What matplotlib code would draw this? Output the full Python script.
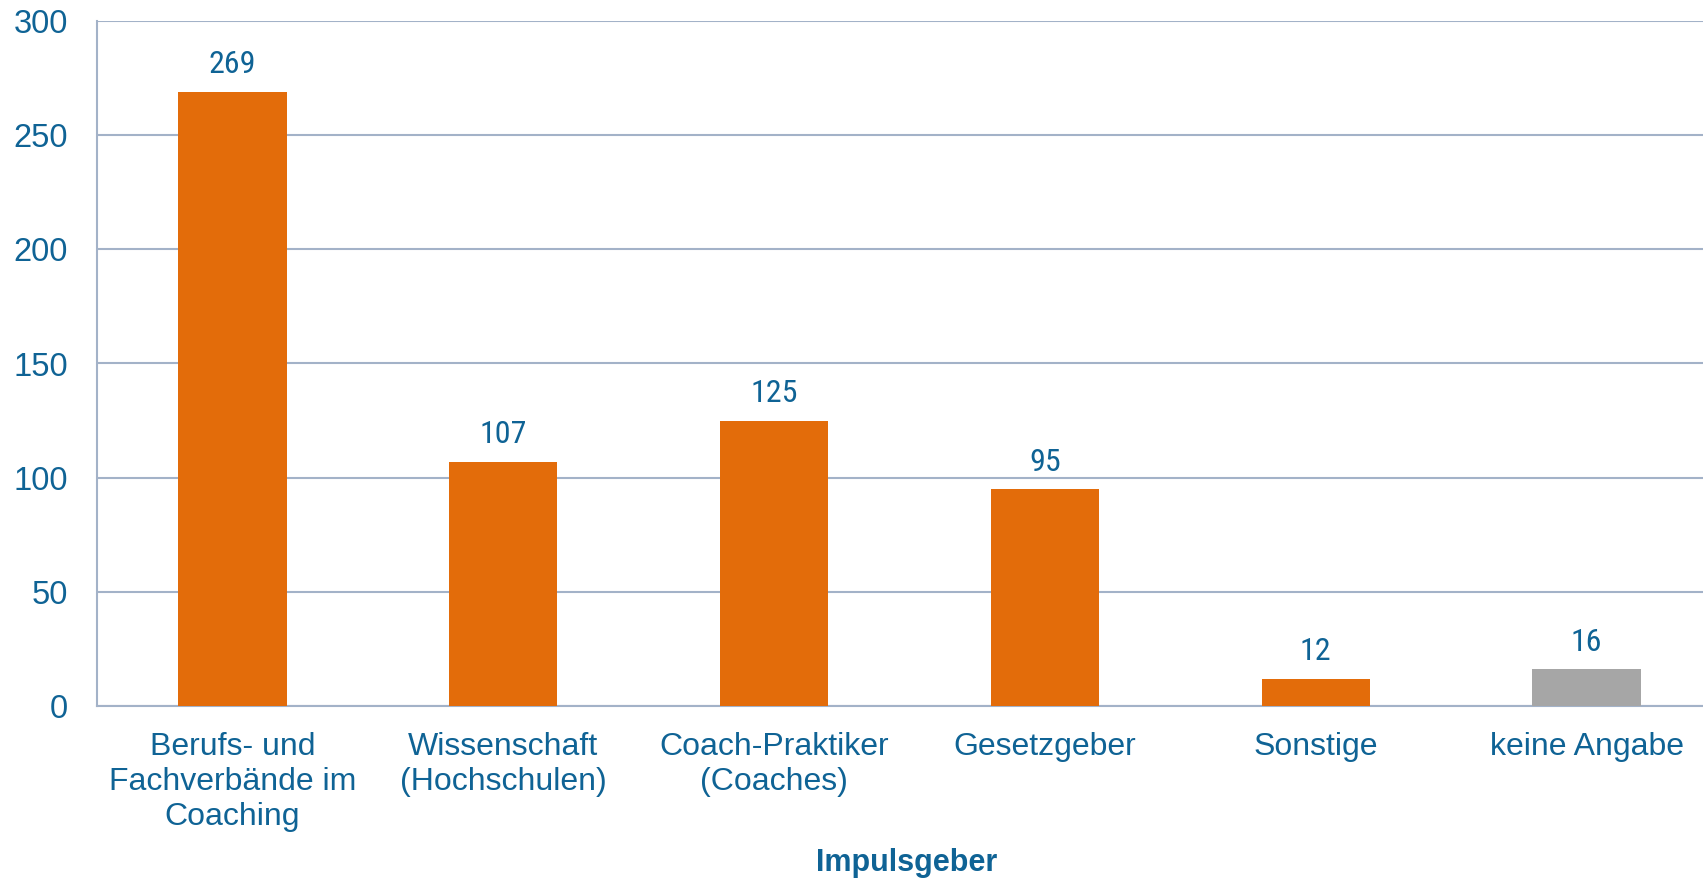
import matplotlib
matplotlib.use("Agg")
import matplotlib.pyplot as plt
from matplotlib import font_manager

categories = ["Berufs- und\nFachverbände im\nCoaching", "Wissenschaft\n(Hochschulen)",
              "Coach-Praktiker\n(Coaches)", "Gesetzgeber", "Sonstige", "keine Angabe"]
values = [269, 107, 125, 95, 12, 16]
bar_colors = ["#E36C0A", "#E36C0A", "#E36C0A", "#E36C0A", "#E36C0A", "#A6A6A6"]
yticks = [0, 50, 100, 150, 200, 250, 300]
xlabel = "Impulsgeber"

txt = "#0F6395"
grid = "#A3B2C8"

names = {f.name for f in font_manager.fontManager.ttflist}
narrow = "Liberation Sans Narrow" if "Liberation Sans Narrow" in names else "Roboto Condensed" if "Roboto Condensed" in names else "Liberation Sans"

plt.rcParams['font.family'] = ['Liberation Sans', 'DejaVu Sans']

fig = plt.figure(figsize=(17.03, 8.80), dpi=100)
ax = fig.add_axes([97/1703, 1-706/880, (1722-97)/1703, (706-21)/880])

x = range(len(categories))
bars = ax.bar(x, values, width=0.40, color=bar_colors, zorder=3)
for xi, v in zip(x, values):
    ax.annotate(str(v), (xi, v), xytext=(0, 9), textcoords="offset points",
                ha="center", va="bottom", color=txt, fontsize=23, family=[narrow, 'DejaVu Sans'])

ax.set_xlim(-0.5, len(categories) - 0.5)
ax.set_ylim(0, 300)
ax.set_yticks(yticks)
ax.set_yticklabels([str(t) for t in yticks], color=txt, fontsize=23.5)
ax.set_xticks(list(x))
ax.set_xticklabels(categories, color=txt, fontsize=23, linespacing=1.2)
ax.tick_params(axis='y', length=0, pad=21)
ax.tick_params(axis='x', length=0, pad=19)
ax.yaxis.grid(True, color=grid, linewidth=1.5, zorder=0)
for s in ["top", "right"]:
    ax.spines[s].set_visible(False)
ax.spines["left"].set_color(grid)
ax.spines["left"].set_linewidth(1.5)
ax.spines["bottom"].set_color(grid)
ax.spines["bottom"].set_linewidth(1.5)

fig.text(907/1703, 1 - 863/880, xlabel, ha="center", va="center",
         color=txt, fontsize=22, fontweight="bold")

fig.savefig("out.png", dpi=100, facecolor="white")
